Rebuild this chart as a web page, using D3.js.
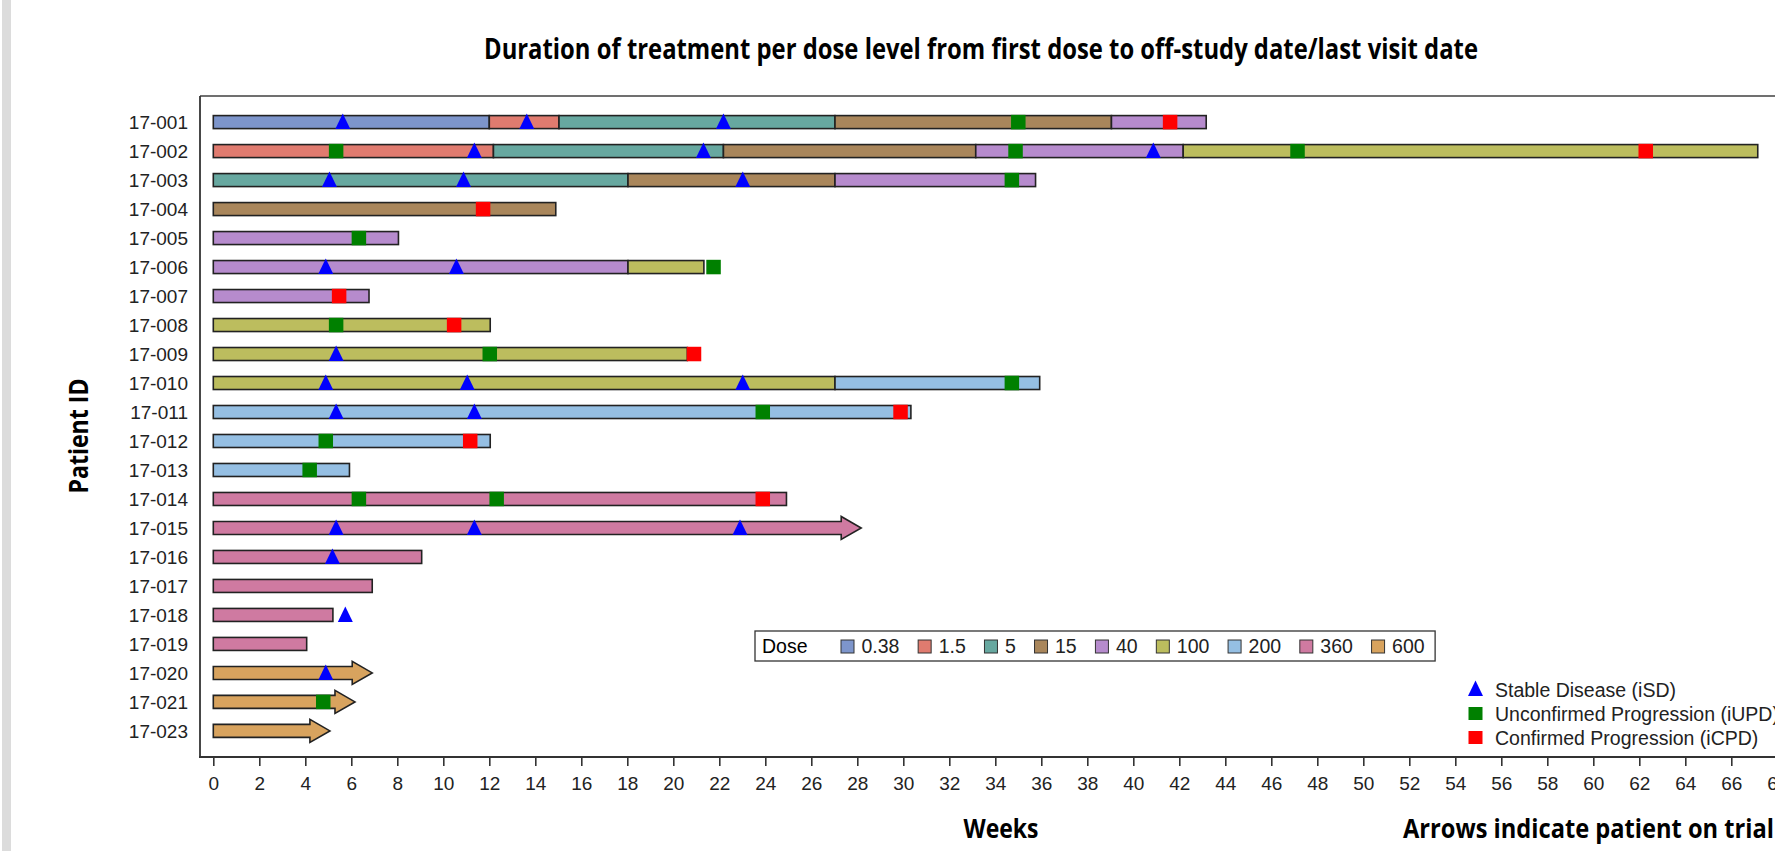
<!DOCTYPE html>
<html><head><meta charset="utf-8">
<script src="https://cdn.jsdelivr.net/npm/d3@7"></script>
<style>html,body{margin:0;padding:0;background:#fff;overflow:hidden}</style>
</head><body>
<svg id="chart" width="1775" height="851"></svg>
<script>
// ---------------- DATA ----------------
const patients = ["17-001","17-002","17-003","17-004","17-005","17-006","17-007","17-008","17-009","17-010","17-011",
  "17-012","17-013","17-014","17-015","17-016","17-017","17-018","17-019","17-020","17-021","17-023"];
const doseLevels = ["0.38","1.5","5","15","40","100","200","360","600"];
const doseColors = ["#7d95cb","#e07b6f","#67a8a0","#a9865b","#b68bcd","#bcbd5e","#95bfe3","#cf7aa1","#d8a35e"];
// [patient, dose, start week, end week]
const segments = [
  ["17-001","0.38",0,12.0],["17-001","1.5",12.0,15.03],["17-001","5",15.03,27.03],["17-001","15",27.03,39.05],["17-001","40",39.05,43.17],
  ["17-002","1.5",0,12.18],["17-002","5",12.18,22.18],["17-002","15",22.18,33.15],["17-002","40",33.15,42.17],["17-002","100",42.17,67.15],
  ["17-003","5",0,18.03],["17-003","15",18.03,27.03],["17-003","40",27.03,35.75],
  ["17-004","15",0,14.89],
  ["17-005","40",0,8.05],
  ["17-006","40",0,18.03],["17-006","100",18.03,21.33],
  ["17-007","40",0,6.77],
  ["17-008","100",0,12.04],
  ["17-009","100",0,20.61],
  ["17-010","100",0,27.03],["17-010","200",27.03,35.93],
  ["17-011","200",0,30.33],
  ["17-012","200",0,12.04],
  ["17-013","200",0,5.92],
  ["17-014","360",0,24.92],
  ["17-015","360",0,28.17],
  ["17-016","360",0,9.06],
  ["17-017","360",0,6.91],
  ["17-018","360",0,5.2],
  ["17-019","360",0,4.06],
  ["17-020","600",0,6.91],
  ["17-021","600",0,6.16],
  ["17-023","600",0,5.07]
];
const onTrial = ["17-015","17-020","17-021","17-023"];
const stableDisease = [
  ["17-001",5.63],["17-001",13.63],["17-001",22.18],
  ["17-002",11.35],["17-002",21.31],["17-002",40.87],
  ["17-003",5.05],["17-003",10.88],["17-003",23.02],
  ["17-006",4.89],["17-006",10.57],
  ["17-009",5.34],
  ["17-010",4.89],["17-010",11.04],["17-010",23.02],
  ["17-011",5.34],["17-011",11.35],
  ["17-015",5.34],["17-015",11.35],["17-015",22.9],
  ["17-016",5.18],["17-018",5.74],["17-020",4.89]
];
const unconfirmedProgression = [
  ["17-001",35.0],["17-002",5.34],["17-002",34.88],["17-002",47.14],["17-003",34.72],["17-005",6.33],
  ["17-006",21.75],["17-008",5.34],["17-009",12.02],["17-010",34.72],["17-011",23.89],["17-012",4.89],
  ["17-013",4.19],["17-014",6.33],["17-014",12.32],["17-021",4.78]
];
const confirmedProgression = [
  ["17-001",41.6],["17-002",62.28],["17-004",11.73],["17-007",5.47],["17-008",10.47],["17-009",20.9],
  ["17-011",29.88],["17-012",11.17],["17-014",23.89]
];
const xTicks = d3.range(0, 69, 2);
const responseLabels = ["Stable Disease (iSD)","Unconfirmed Progression (iUPD)","Confirmed Progression (iCPD)"];
const responseColors = ["#0000ff","#008000","#ff0000"];
const titleText = "Duration of treatment per dose level from first dose to off-study date/last visit date";

// ---------------- LAYOUT ----------------
const W = 1775, H = 851;
const svg = d3.select("#chart");
const sans = "'Liberation Sans', Arial, sans-serif";
const bold = "'Open Sans', 'DejaVu Sans', sans-serif";
svg.append("rect").attr("width", W).attr("height", H).attr("fill", "#fff");
svg.append("rect").attr("x", 2).attr("y", 0).attr("width", 9).attr("height", H).attr("fill", "#dcdcdc");

const frame = {left: 200, top: 96, bottom: 757, right: 1800};
const x = d3.scaleLinear().domain([0, 68]).range([213.3, 213.3 + 68 * 23.0]);
const y = d3.scalePoint().domain(patients).range([frame.top, frame.bottom]).padding(0.9);
const color = d3.scaleOrdinal().domain(doseLevels).range(doseColors);

// title
svg.append("text").attr("x", 981).attr("y", 59).attr("text-anchor", "middle")
  .attr("font-family", bold).attr("font-weight", 700).attr("font-size", 29)
  .attr("textLength", 994).attr("lengthAdjust", "spacingAndGlyphs").attr("fill", "#000").text(titleText);

// frame
svg.append("line").attr("x1", frame.left).attr("x2", frame.right).attr("y1", frame.top).attr("y2", frame.top)
  .attr("stroke", "#707070").attr("stroke-width", 2);
svg.append("line").attr("x1", frame.left).attr("x2", frame.left).attr("y1", frame.top).attr("y2", frame.bottom)
  .attr("stroke", "#333").attr("stroke-width", 1.8);

// x axis
const gx = svg.append("g").attr("transform", `translate(0,${frame.bottom})`)
  .call(d3.axisBottom(x).tickValues(xTicks).tickSize(9).tickPadding(11).tickSizeOuter(0));
gx.select(".domain").remove();
gx.selectAll(".tick line").attr("stroke", "#333").attr("stroke-width", 1.6);
gx.selectAll(".tick text").attr("font-family", sans).attr("font-size", 19).attr("fill", "#222");
svg.append("line").attr("x1", frame.left - 1).attr("x2", frame.right).attr("y1", frame.bottom).attr("y2", frame.bottom)
  .attr("stroke", "#333").attr("stroke-width", 2);

// y axis
const gy = svg.append("g").attr("transform", `translate(${frame.left},0)`)
  .call(d3.axisLeft(y).tickSize(0).tickPadding(12));
gy.select(".domain").remove();
gy.selectAll(".tick text").attr("font-family", sans).attr("font-size", 19).attr("fill", "#222");

// axis titles
svg.append("text").attr("transform", "translate(88,436) rotate(-90)").attr("text-anchor", "middle")
  .attr("font-family", bold).attr("font-weight", 700).attr("font-size", 27)
  .attr("textLength", 115).attr("lengthAdjust", "spacingAndGlyphs").text("Patient ID");
svg.append("text").attr("x", 1001).attr("y", 838).attr("text-anchor", "middle")
  .attr("font-family", bold).attr("font-weight", 700).attr("font-size", 27)
  .attr("textLength", 75).attr("lengthAdjust", "spacingAndGlyphs").text("Weeks");
svg.append("text").attr("x", 1403).attr("y", 838)
  .attr("font-family", bold).attr("font-weight", 700).attr("font-size", 27)
  .attr("textLength", 371).attr("lengthAdjust", "spacingAndGlyphs").text("Arrows indicate patient on trial");

// bars
const barH = 13, headLen = 20, headH = 23;
const arrowSet = new Set(onTrial);
const segData = segments.map(([p, d, s, e]) => ({p, d, s, e}));
const plot = svg.append("g");
plot.selectAll("rect.seg").data(segData.filter(d => !arrowSet.has(d.p))).join("rect")
  .attr("class", "seg")
  .attr("x", d => x(d.s)).attr("y", d => y(d.p) - barH / 2)
  .attr("width", d => x(d.e) - x(d.s)).attr("height", barH)
  .attr("fill", d => color(d.d)).attr("stroke", "#222").attr("stroke-width", 1.6);
plot.selectAll("path.arrow").data(segData.filter(d => arrowSet.has(d.p))).join("path")
  .attr("class", "arrow")
  .attr("d", d => {
    const x0 = x(d.s), xt = x(d.e), xs = xt - headLen, cy = y(d.p);
    return `M${x0},${cy - barH / 2}L${xs},${cy - barH / 2}L${xs},${cy - headH / 2}L${xt},${cy}` +
      `L${xs},${cy + headH / 2}L${xs},${cy + barH / 2}L${x0},${cy + barH / 2}Z`;
  })
  .attr("fill", d => color(d.d)).attr("stroke", "#222").attr("stroke-width", 1.6).attr("stroke-linejoin", "miter");

// markers
const tri = (cx, cy) => `M${cx - 7.5},${cy + 7}L${cx + 7.5},${cy + 7}L${cx},${cy - 8.5}Z`;
const sq = 14.5;
plot.selectAll("path.isd").data(stableDisease).join("path").attr("class", "isd")
  .attr("d", d => tri(x(d[1]), y(d[0]))).attr("fill", responseColors[0]);
plot.selectAll("rect.iupd").data(unconfirmedProgression).join("rect").attr("class", "iupd")
  .attr("x", d => x(d[1]) - sq / 2).attr("y", d => y(d[0]) - sq / 2).attr("width", sq).attr("height", sq)
  .attr("fill", responseColors[1]);
plot.selectAll("rect.icpd").data(confirmedProgression).join("rect").attr("class", "icpd")
  .attr("x", d => x(d[1]) - sq / 2).attr("y", d => y(d[0]) - sq / 2).attr("width", sq).attr("height", sq)
  .attr("fill", responseColors[2]);

// dose legend
const lg = svg.append("g");
const lgBox = lg.append("rect").attr("x", 755).attr("y", 631).attr("height", 30)
  .attr("fill", "#fff").attr("stroke", "#333").attr("stroke-width", 1.3);
lg.append("text").attr("x", 762).attr("y", 653).attr("font-family", sans).attr("font-size", 19.5).attr("fill", "#000").text("Dose");
let cursor = 841;
doseLevels.forEach((lvl, i) => {
  lg.append("rect").attr("x", cursor).attr("y", 640).attr("width", 13).attr("height", 13)
    .attr("fill", doseColors[i]).attr("stroke", "#333").attr("stroke-width", 1);
  const t = lg.append("text").attr("x", cursor + 20.5).attr("y", 653).attr("font-family", sans)
    .attr("font-size", 19.5).attr("fill", "#222").text(lvl);
  cursor = cursor + 20.5 + t.node().getComputedTextLength() + 18.7;
});
lgBox.attr("width", cursor - 18.7 + 10.5 - 755);

// response legend
const rl = svg.append("g");
const rowsY = [689.5, 713.5, 737.5];
responseLabels.forEach((lab, i) => {
  const cy = rowsY[i], cx = 1475.5;
  if (i === 0) rl.append("path").attr("d", tri(cx, cy - 0.5)).attr("fill", responseColors[0]);
  else rl.append("rect").attr("x", cx - 7).attr("y", cy - 6.5).attr("width", 14).attr("height", 13).attr("fill", responseColors[i]);
  rl.append("text").attr("x", 1495).attr("y", cy + 7).attr("font-family", sans).attr("font-size", 19.5)
    .attr("fill", "#222").text(lab);
});
</script>
</body></html>
